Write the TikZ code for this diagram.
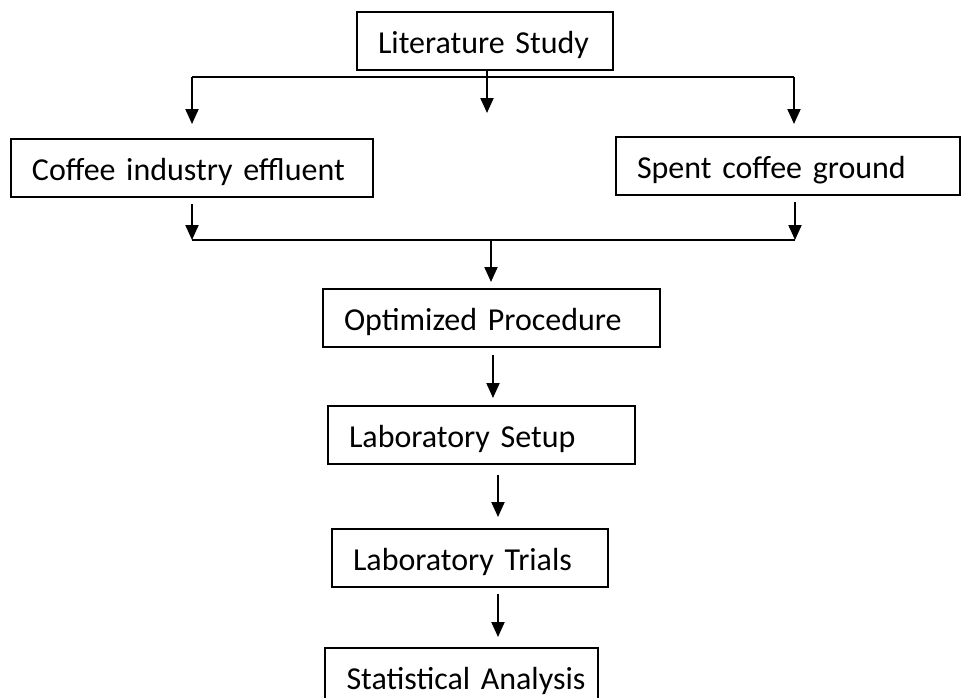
\documentclass[tikz,border=0pt]{standalone}
\usepackage{fontspec}
\setmainfont{Carlito}
\usepackage{tikz}
\usetikzlibrary{arrows.meta, positioning, calc}
\tikzstyle{block} = [rectangle, draw, line width=0.4mm, align=left, inner xsep=4.2mm, minimum height=11.6mm, text height=5.2mm, text depth=0.4mm, font=\fontsize{18.2}{22}\selectfont, fill=white]
\tikzstyle{flow} = [line width=0.4mm, -{Triangle[length=3mm, width=2.6mm]}]
\tikzstyle{bar}  = [line width=0.4mm]

\begin{document}
\begin{tikzpicture}[x=0.2mm, y=-0.2mm]
	\useasboundingbox (0,0) rectangle (965,698);

	% Literature and the two inputs
	\node (lit) [block, text width=42.8mm] at (485,41) {Literature Study};
	\node (coffee) [block, text width=64mm, below left=13.4mm and -3.6mm of lit] {Coffee industry effluent};
	\node (spent) [block, text width=60.4mm, below right=13mm and 0.2mm of lit] {Spent coffee ground};

	% Main chain
	\node (opt) [block, text width=59mm, below=43.4mm of lit, xshift=1.3mm] {Optimized Procedure};
	\node (setup) [block, text width=53mm, below=11.4mm of opt, xshift=-2mm] {Laboratory Setup};
	\node (trials) [block, text width=46.8mm, below=12.6mm of setup, xshift=-2.3mm] {Laboratory Trials};
	\node (stat) [block, text width=50mm, inner xsep=2.3mm, below=11.8mm of trials, xshift=-1.7mm] {\hspace*{2mm}Statistical Analysis};

	% Branch points
	\coordinate (splitl) at (192,77);
	\coordinate (splitr) at (794,77);
	\coordinate (gap) at (487,113);
	\coordinate (joinl) at (192,240);
	\coordinate (joinr) at (795,240);
	\coordinate (joinc) at (491,240);

	% Arrows - split
	\draw[bar] (splitl) -- (splitr);
	\draw[flow] ([xshift=0.4mm]lit.south) -- (gap);
	\draw[flow, shorten >=2.8mm] (splitl) -- (splitl |- coffee.north);
	\draw[flow, shorten >=2.4mm] (splitr) -- (splitr |- spent.north);

	% Arrows - join
	\draw[flow, shorten <=1.2mm] (coffee.south -| joinl) -- (joinl);
	\draw[flow, shorten <=1.2mm] (spent.south -| joinr) -- (joinr);
	\draw[bar] (joinl) -- (joinr);
	\draw[flow, shorten >=1.2mm] (joinc) -- (joinc |- opt.north);

	% Arrows - chain
	\draw[flow, shorten <=1.4mm, shorten >=1.4mm] ([xshift=0.3mm]opt.south) -- ([xshift=0.3mm]opt.south |- setup.north);
	\draw[flow, shorten <=2mm, shorten >=2.2mm] ([xshift=3.3mm]setup.south) -- ([xshift=3.3mm]setup.south |- trials.north);
	\draw[flow, shorten <=1.2mm, shorten >=2mm] ([xshift=5.6mm]trials.south) -- ([xshift=5.6mm]trials.south |- stat.north);

\end{tikzpicture}
\end{document}
